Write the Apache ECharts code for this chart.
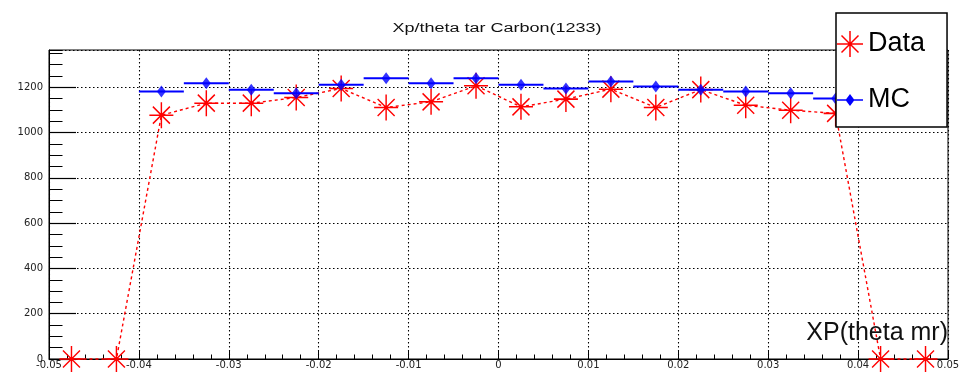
<!DOCTYPE html>
<html>
<head>
<meta charset="utf-8">
<script src="https://cdn.jsdelivr.net/npm/echarts@6/dist/echarts.min.js"></script>
<style>
  html, body { margin: 0; padding: 0; background: #fff; }
  #chart { width: 980px; height: 374px; }
</style>
</head>
<body>
<div id="chart"></div>
<script>
// ---- data ----
const titleText = 'Xp/theta tar Carbon(1233)';
const xAxisTitle = 'XP(theta mr)';
const binCenters = [-0.0475, -0.0425, -0.0375, -0.0325, -0.0275, -0.0225, -0.0175, -0.0125, -0.0075, -0.0025,
                     0.0025,  0.0075,  0.0125,  0.0175,  0.0225,  0.0275,  0.0325,  0.0375,  0.0425,  0.0475];
const binHalfWidth = 0.0025;
const dataCounts = [0, 0, 1077, 1130, 1130, 1155, 1195, 1111, 1136, 1207,
                    1114, 1148, 1192, 1111, 1190, 1121, 1099, 1085, 0, 0];
const mcCounts = [null, null, 1182, 1218, 1189, 1174, 1211, 1240, 1218, 1240,
                  1211, 1195, 1226, 1204, 1189, 1182, 1174, 1151, null, null];
const xMin = -0.05, xMax = 0.05, xStep = 0.01;
const yMin = 0, yMax = 1365, yStep = 200, yMinorStep = 50;
const legendNames = ['Data', 'MC'];

// ---- build series data ----
const dataPoints = binCenters.map((x, i) => [x, dataCounts[i]]);
const mcPoints = binCenters.map((x, i) => [x, mcCounts[i]]).filter(p => p[1] !== null);

const starSymbol = 'path://M-12,0L12,0M0,-13L0,13M-8.5,-8.5L8.5,8.5M-8.5,8.5L8.5,-8.5';
const starIcon = 'path://M0,12.25L26,12.25L26,13.75L0,13.75Z' +
  'M12.25,0L13.75,0L13.75,26L12.25,26Z' +
  'M3.97,5.03L5.03,3.97L22.03,20.97L20.97,22.03Z' +
  'M3.97,20.97L20.97,3.97L22.03,5.03L5.03,22.03Z';
const mcIcon = 'path://M0,12.25L26,12.25L26,13.75L0,13.75Z M13,7L17.5,13L13,19L8.5,13Z';

const tickFont = 'DejaVu Sans';
const chart = echarts.init(document.getElementById('chart'), null, { renderer: 'canvas' });

const option = {
  animation: false,
  backgroundColor: '#ffffff',
  graphic: [{
    type: 'text',
    x: 497, y: 29,
    scaleX: 1.5,
    z: 10,
    style: {
      text: titleText,
      font: '12px "Liberation Sans", Arial, sans-serif',
      fill: '#111',
      align: 'center',
      verticalAlign: 'middle'
    }
  }],
  grid: {
    left: 49, right: 32, top: 50, bottom: 15,
    show: true, borderColor: '#000', borderWidth: 1, backgroundColor: 'transparent'
  },
  legend: {
    orient: 'vertical',
    left: 836, top: 13,
    padding: [16, 22, 12, 1],
    itemGap: 26,
    itemWidth: 26, itemHeight: 26,
    backgroundColor: '#fff',
    borderColor: '#000', borderWidth: 1.5,
    itemStyle: { borderWidth: 0 },
    textStyle: { fontSize: 27, lineHeight: 30, fontFamily: '"Liberation Sans", Arial, sans-serif', color: '#000' },
    data: [
      { name: legendNames[0], icon: starIcon },
      { name: legendNames[1], icon: mcIcon }
    ],
    selectedMode: false,
    z: 20
  },
  xAxis: {
    type: 'value',
    min: xMin, max: xMax, interval: xStep,
    name: xAxisTitle,
    nameLocation: 'end',
    nameGap: 0,
    nameTextStyle: {
      fontSize: 25, fontFamily: '"Liberation Sans", Arial, sans-serif', color: '#111',
      align: 'right', verticalAlign: 'bottom', lineHeight: 26, padding: [0, 0, 13, 0]
    },
    axisLine: { show: true, onZero: false, lineStyle: { color: '#000', width: 1 } },
    axisTick: { show: true, inside: true, length: 9, lineStyle: { color: '#000', width: 1 } },
    minorTick: { show: true, splitNumber: 5, length: 4.5, lineStyle: { color: '#000', width: 1 } },
    axisLabel: {
      show: true, margin: 1, fontSize: 10, fontFamily: tickFont, color: '#222',
      showMinLabel: true, showMaxLabel: true,
      formatter: function (v) { return String(Math.round(v * 1000) / 1000); }
    },
    splitLine: { show: true, lineStyle: { color: '#000', width: 1.1, type: [1.5, 2.5] } },
    minorSplitLine: { show: false }
  },
  yAxis: [{
    type: 'value',
    min: yMin, max: yMax, interval: yStep,
    position: 'left',
    axisLine: { show: true, onZero: false, lineStyle: { color: '#000', width: 1 } },
    axisTick: { show: true, inside: true, length: 27, lineStyle: { color: '#000', width: 1.2 } },
    axisLabel: {
      show: true, margin: 6, fontSize: 10, fontFamily: tickFont, color: '#222', showMaxLabel: false,
      formatter: function (v) { return String(v); }
    },
    splitLine: { show: true, lineStyle: { color: '#000', width: 1.1, type: [1.5, 2.5] } }
  }, {
    type: 'value',
    min: yMin, max: yMax, interval: yMinorStep,
    position: 'left',
    axisLine: { show: false, onZero: false },
    axisTick: { show: true, inside: true, length: 13.5, lineStyle: { color: '#000', width: 1 } },
    axisLabel: { show: false },
    splitLine: { show: false }
  }],
  series: [
    {
      name: legendNames[0],
      type: 'line',
      data: dataPoints,
      clip: false,
      symbol: starSymbol,
      symbolSize: [24, 26],
      showAllSymbol: true,
      itemStyle: { color: '#ff0000', borderColor: '#ff0000', borderWidth: 1.5 },
      lineStyle: { color: '#ff0000', width: 1.4, type: [3, 3] },
      z: 3
    },
    {
      name: legendNames[1],
      type: 'custom',
      data: mcPoints,
      clip: false,
      itemStyle: { color: '#0000ff' },
      renderItem: function (params, api) {
        const x = api.value(0), y = api.value(1);
        const p1 = api.coord([x - binHalfWidth, y]);
        const p2 = api.coord([x + binHalfWidth, y]);
        return {
          type: 'line',
          shape: { x1: p1[0], y1: p1[1], x2: p2[0], y2: p2[1] },
          style: { stroke: '#0000ff', lineWidth: 2 }
        };
      },
      z: 4
    },
    {
      name: legendNames[1],
      type: 'scatter',
      data: mcPoints,
      symbol: 'diamond',
      symbolSize: [9, 12],
      itemStyle: { color: '#0000ff' },
      z: 5
    }
  ]
};
chart.setOption(option);
</script>
</body>
</html>
